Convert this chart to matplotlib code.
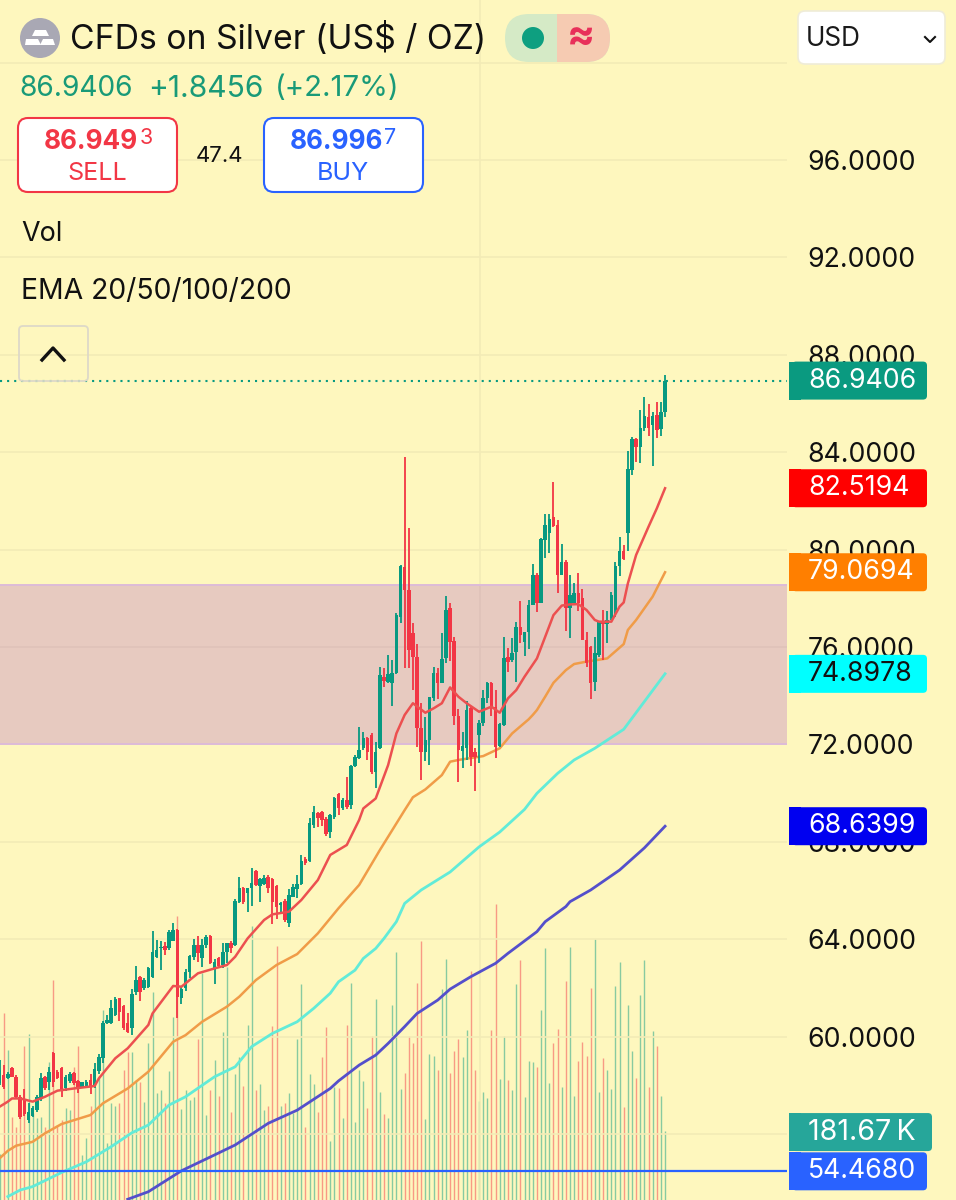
import numpy as np
import matplotlib
matplotlib.use("Agg")
import matplotlib.pyplot as plt
from matplotlib.patches import FancyBboxPatch, Circle, Rectangle, Polygon

plt.rcParams['font.family'] = ['Inter', 'DejaVu Sans']

# candles, first one is cut by the left edge
open_ = [58.08,
         58.42, 58.29, 58.70, 58.35, 57.53, 57.42, 56.57, 56.74, 56.99, 57.46,
         58.33, 58.15, 59.31, 58.56, 58.70, 57.88, 58.19, 58.49, 58.19, 57.94,
         57.97, 58.22, 57.94, 58.60, 59.11, 60.55, 60.57, 60.89, 61.57, 61.26,
         60.55, 60.34, 61.84, 62.46, 61.98, 62.05, 62.43, 63.28, 63.62, 63.72,
         63.62, 63.94, 64.38, 61.57, 61.98, 62.67, 63.28, 63.76, 63.22, 63.76,
         64.13, 62.74, 63.22, 62.94, 63.49, 63.86, 63.76, 65.54, 66.09, 65.89,
         66.09, 66.82, 66.19, 66.27, 66.57, 66.47, 66.19, 65.41, 65.58, 64.65,
         65.75, 66.05, 66.27, 67.28, 67.21, 68.69, 69.20, 69.24, 68.92, 68.42,
         69.03, 69.97, 69.40, 69.71, 69.51, 71.11, 71.43, 71.84, 72.25, 72.38,
         70.88, 71.84, 74.75, 74.57, 74.51, 74.92, 77.24, 79.30, 78.34, 76.56,
         75.57, 72.66, 71.70, 72.18, 73.89, 74.92, 74.53, 75.53, 77.59, 76.24,
         73.16, 71.74, 71.84, 73.48, 71.70, 72.38, 72.86, 73.89, 74.51, 73.55,
         71.93, 72.80, 75.60, 75.46, 75.81, 76.81, 76.22, 76.63, 77.72, 78.96,
         77.82, 80.39, 80.67, 81.32, 81.01, 78.96, 79.50, 77.59, 77.79, 78.20,
         78.00, 76.29, 76.01, 74.57, 75.67, 77.04, 76.94, 77.18, 77.52, 79.33,
         79.94, 80.70, 83.27, 84.53, 84.20, 84.98, 85.46, 85.12, 85.53, 84.94,
         85.64]
high = [59.04,
        58.83, 58.56, 58.77, 58.42, 57.60, 57.85, 57.26, 57.15, 57.60, 58.52,
        58.38, 58.77, 59.38, 58.63, 58.77, 58.42, 58.53, 58.56, 58.22, 58.15,
        58.22, 58.46, 58.93, 59.29, 60.65, 60.89, 61.50, 61.61, 61.60, 61.30,
        60.96, 61.94, 62.90, 62.49, 62.39, 62.87, 64.35, 63.97, 63.94, 63.90,
        64.38, 64.65, 64.42, 62.05, 62.78, 63.35, 64.00, 64.13, 64.00, 64.17,
        64.17, 63.17, 63.26, 63.83, 63.86, 63.93, 65.64, 66.54, 66.13, 66.12,
        66.91, 66.84, 66.50, 66.64, 66.64, 66.50, 66.23, 65.54, 65.64, 66.05,
        66.26, 66.64, 67.46, 67.39, 68.99, 69.47, 69.24, 69.28, 69.03, 69.13,
        69.83, 70.02, 69.80, 70.67, 71.15, 71.56, 72.70, 72.52, 72.32, 72.45,
        72.11, 75.16, 75.12, 75.67, 75.46, 77.41, 79.37, 83.79, 80.87, 76.97,
        76.12, 73.68, 73.11, 73.93, 75.19, 75.12, 76.56, 78.09, 77.79, 76.42,
        73.44, 72.52, 73.79, 73.55, 71.84, 73.00, 74.23, 74.57, 74.57, 74.23,
        72.86, 76.40, 75.94, 76.35, 77.04, 77.90, 76.63, 77.93, 79.39, 79.02,
        80.46, 81.46, 81.46, 82.79, 81.21, 80.23, 79.57, 78.96, 78.61, 79.02,
        78.37, 76.63, 76.04, 76.42, 77.04, 77.52, 77.48, 78.27, 79.50, 80.53,
        80.19, 84.05, 84.64, 84.57, 85.74, 86.26, 85.97, 85.67, 86.05, 86.05,
        87.17]
low = [58.01,
       57.83, 58.26, 58.33, 57.46, 56.62, 56.74, 56.46, 56.68, 56.89, 57.36,
       57.81, 57.81, 57.94, 58.24, 57.53, 57.78, 58.11, 58.01, 57.67, 57.92,
       57.92, 57.63, 57.88, 58.46, 58.90, 60.52, 60.52, 60.85, 60.64, 60.27,
       60.13, 60.06, 61.71, 61.46, 61.91, 61.98, 62.39, 63.21, 62.74, 63.35,
       63.56, 63.94, 60.75, 61.34, 61.89, 62.42, 63.15, 63.08, 62.87, 63.63,
       62.98, 62.16, 62.83, 62.81, 63.04, 63.45, 63.72, 65.50, 65.45, 65.13,
       65.37, 66.19, 65.54, 66.23, 65.89, 64.63, 64.82, 65.04, 64.72, 64.52,
       65.72, 65.68, 66.23, 67.04, 67.19, 68.55, 68.62, 68.65, 68.24, 68.14,
       68.92, 69.10, 69.30, 69.33, 69.33, 71.08, 71.38, 71.77, 71.36, 70.77,
       70.19, 71.80, 74.34, 74.53, 73.58, 74.88, 76.97, 75.12, 75.12, 74.23,
       71.88, 70.54, 71.33, 71.15, 73.79, 73.85, 74.51, 75.35, 75.44, 72.80,
       70.47, 71.02, 71.36, 71.11, 70.10, 71.22, 72.75, 73.68, 73.16, 71.43,
       71.91, 72.75, 74.99, 75.40, 74.57, 76.15, 75.63, 75.90, 77.72, 77.45,
       77.79, 79.64, 79.85, 80.94, 78.20, 78.96, 76.67, 76.35, 77.79, 77.49,
       76.29, 75.16, 73.85, 74.20, 75.60, 75.46, 76.18, 77.11, 77.24, 78.91,
       79.57, 79.96, 83.07, 83.59, 83.55, 84.89, 84.68, 83.44, 84.57, 84.67,
       85.46]
close = [58.63,
         57.92, 58.46, 58.35, 57.53, 56.71, 56.82, 56.92, 57.05, 57.53, 58.29,
         57.88, 58.56, 58.15, 58.29, 57.81, 58.35, 58.46, 58.08, 57.88, 58.12,
         58.15, 57.94, 58.66, 59.18, 60.57, 60.68, 61.16, 61.53, 61.02, 60.34,
         60.20, 61.75, 62.32, 61.84, 62.32, 62.80, 63.46, 63.56, 63.69, 63.56,
         64.31, 64.38, 61.61, 61.94, 62.67, 63.31, 63.76, 63.42, 63.76, 64.10,
         63.04, 63.08, 62.90, 63.49, 63.83, 63.63, 65.58, 66.09, 65.54, 66.09,
         66.30, 66.23, 66.46, 66.50, 66.09, 65.54, 65.34, 65.50, 64.79, 65.82,
         66.13, 66.27, 67.21, 67.12, 68.76, 69.24, 68.97, 68.90, 68.32, 69.10,
         69.79, 69.38, 69.71, 69.44, 71.11, 71.49, 71.77, 72.25, 71.70, 70.88,
         71.70, 74.85, 74.62, 74.89, 74.92, 77.31, 79.33, 78.34, 75.88, 75.60,
         72.66, 71.70, 72.18, 73.93, 74.92, 74.51, 75.49, 77.52, 76.22, 73.16,
         71.77, 71.93, 73.41, 71.49, 71.49, 72.86, 73.89, 74.51, 73.55, 71.91,
         72.84, 75.53, 75.40, 75.74, 76.83, 76.49, 76.60, 77.72, 78.96, 77.82,
         80.42, 81.01, 81.24, 80.97, 78.96, 79.50, 77.59, 78.13, 78.23, 77.79,
         76.29, 75.33, 74.53, 75.74, 77.01, 76.94, 77.11, 78.13, 79.33, 79.94,
         79.60, 83.30, 84.53, 84.20, 84.98, 85.49, 84.98, 85.49, 84.92, 85.67,
         86.94]
# volume in thousands
volume = [120,
          493, 395, 218, 193, 228, 405, 437, 228, 215, 219,
          191, 364, 579, 197, 211, 241, 237, 351, 405, 118,
          162, 246, 298, 325, 500, 149, 254, 246, 254, 342,
          388, 388, 316, 311, 259, 412, 548, 281, 288, 254,
          338, 481, 747, 239, 289, 263, 272, 423, 596, 224,
          288, 367, 274, 441, 614, 232, 332, 377, 300, 460,
          721, 288, 305, 237, 246, 458, 668, 246, 254, 281,
          228, 423, 568, 193, 332, 305, 232, 375, 456, 154,
          298, 294, 216, 460, 572, 205, 341, 313, 243, 432,
          528, 284, 226, 216, 514, 652, 293, 333, 432, 414,
          571, 681, 214, 385, 379, 341, 555, 635, 334, 391,
          423, 377, 448, 602, 341, 260, 283, 267, 447, 778,
          318, 432, 315, 289, 568, 631, 271, 366, 362, 350,
          501, 663, 308, 414, 451, 296, 576, 666, 274, 366,
          416, 378, 558, 686, 284, 374, 343, 291, 563, 626,
          245, 512, 391, 322, 540, 631, 296, 444, 405, 274,
          181.67]

# EMAs read at the bars where the line is clearest
ema20_idx = [-1, 1, 2, 4, 7, 10, 13, 17, 22, 23, 27, 30, 35, 36, 41, 43, 47, 51, 54, 56, 59, 63, 65,
             69, 72, 76, 79, 83, 86, 87, 90, 93, 95, 97, 99, 102, 104, 106, 108, 110, 112, 115, 118,
             120, 122, 124, 126, 129, 131, 133, 135, 137, 139, 141, 143, 144, 147, 149, 150, 151,
             153, 156, 158, 160]
ema20_val = [57.12, 57.33, 57.46, 57.46, 57.33, 57.53, 57.78, 57.87, 57.97, 58.28, 59.11, 59.52,
             60.48, 60.95, 62.08, 62.05, 62.60, 62.80, 62.94, 63.28, 64.03, 64.79, 65.02, 65.13,
             65.61, 66.43, 67.46, 67.87, 68.90, 69.37, 69.78, 71.15, 72.45, 73.21, 73.69, 73.30,
             73.48, 73.69, 74.34, 73.96, 73.69, 73.34, 73.55, 73.30, 73.89, 74.23, 74.78, 75.53,
             76.42, 77.31, 77.70, 77.75, 77.76, 77.52, 77.11, 77.04, 77.04, 77.66, 77.83, 78.61,
             79.78, 80.94, 81.69, 82.52]
ema50_idx = [-1, 1, 3, 7, 10, 14, 21, 24, 30, 35, 41, 44, 48, 54, 57, 61, 66, 71, 76, 81, 86, 91,
             97, 99, 102, 106, 108, 110, 116, 120, 123, 127, 128, 129, 131, 133, 136, 138, 141, 146,
             150, 151, 153, 155, 157, 160]
ema50_val = [55.00, 55.31, 55.52, 55.68, 56.03, 56.41, 56.78, 57.26, 57.87, 58.56, 59.79, 60.06,
             60.61, 61.23, 61.64, 62.32, 62.94, 63.39, 64.24, 65.27, 66.23, 67.66, 69.30, 69.83,
             70.15, 70.74, 71.29, 71.36, 71.52, 71.84, 72.45, 73.03, 73.21, 73.41, 73.96, 74.53,
             75.05, 75.30, 75.40, 75.53, 76.12, 76.70, 77.11, 77.59, 78.07, 79.07]
ema100_idx = [1, 4, 7, 14, 20, 26, 31, 35, 40, 44, 51, 56, 60, 65, 71, 75, 79, 81, 85, 87, 90, 92,
              95, 97, 101, 108, 115, 120, 126, 129, 134, 138, 143, 150, 160]
ema100_val = [53.43, 53.70, 53.84, 54.42, 54.86, 55.48, 56.05, 56.37, 57.19, 57.53, 58.35, 58.76,
              59.59, 60.13, 60.61, 61.16, 61.78, 62.25, 62.73, 63.21, 63.62, 64.03, 64.72, 65.47,
              66.02, 66.76, 67.79, 68.40, 69.33, 69.99, 70.81, 71.36, 71.84, 72.62, 74.90]
ema200_idx = [30, 35, 43, 51, 56, 64, 71, 79, 81, 86, 90, 93, 97, 100, 105, 108, 113, 119, 122,
              129, 131, 136, 137, 142, 149, 155, 160]
ema200_val = [53.32, 53.63, 54.49, 55.14, 55.55, 56.44, 56.98, 57.87, 58.18, 58.83, 59.24, 59.72,
              60.41, 60.95, 61.50, 61.95, 62.46, 63.01, 63.42, 64.31, 64.72, 65.34, 65.54, 66.02,
              66.84, 67.75, 68.64]

zone_top = 78.55
zone_bottom = 72.02
last_price = 86.9406
blue_line = 54.4680
volume_tag_y = 56.08
price_ticks = [56, 60, 64, 68, 72, 76, 80, 84, 88, 92, 96]
grid_prices = price_ticks + [100]

GREEN = '#089981'
RED = '#F23645'
BG = '#FEF7BE'
GRID = '#F3EBB6'

fig = plt.figure(figsize=(9.56, 12), dpi=100, facecolor=BG)
plot_rect = [0, 0, 787 / 956, 1]

vol_ax = fig.add_axes(plot_rect, zorder=1)
ax = fig.add_axes(plot_rect, zorder=2, sharex=vol_ax)
ui = fig.add_axes([0, 0, 1, 1], zorder=3)
ui.set_xlim(0, 956)
ui.set_ylim(1200, 0)
ui.axis('off')

x = np.arange(-1, 161)
o, h, l, c = map(np.array, (open_, high, low, close))
bar_colors = [GREEN if cc >= oo else RED for oo, cc in zip(o, c)]

ax.set_xlim(-0.895, 189.5)
ax.set_ylim(53.29, 102.57)
vol_ax.set_ylim(0, 3156)
vol_ax.axis('off')
ax.patch.set_alpha(0)

vol_ax.vlines(x, 0, volume, colors=bar_colors, linewidth=1.0, alpha=0.48)

# horizontal grid, one crosshair line, the supply zone
ax.hlines(grid_prices, -5, 195, colors=GRID, linewidth=1.2, zorder=1)
ax.axvline(115.2, color=GRID, linewidth=1.2, zorder=1)
ax.axhspan(zone_bottom, zone_top, color='#A647C6', alpha=0.25, linewidth=0, zorder=1.2)
for edge in (zone_bottom, zone_top):
    ax.axhline(edge, color='#DDBBD8', linewidth=1.4, zorder=1.3)

ax.plot(ema200_idx, ema200_val, color='#544FCB', linewidth=2.0, zorder=2)
ax.plot(ema100_idx, ema100_val, color='#62EBD8', linewidth=2.0, zorder=2)
ax.plot(ema50_idx, ema50_val, color='#F09C48', linewidth=1.8, zorder=2)

ax.vlines(x, l, h, colors=bar_colors, linewidth=1.3, zorder=3)
ax.bar(x, np.maximum(np.abs(c - o), 0.08), bottom=np.minimum(o, c), width=0.85,
       color=bar_colors, linewidth=0, zorder=3)
ax.plot(ema20_idx, ema20_val, color='#EC5050', linewidth=1.8, zorder=4)

ax.axhline(last_price, color=GREEN, linewidth=1.5, linestyle=(0, (1, 2.4)), zorder=4)
ax.axhline(blue_line, color='#2962FF', linewidth=1.6, zorder=4)

ax.yaxis.tick_right()
ax.set_yticks(price_ticks)
ax.set_yticklabels([f'{p:.4f}' for p in price_ticks], fontsize=19.2, color='#111111')
ax.tick_params(axis='y', length=0, pad=15)
ax.set_xticks([])
for s in ax.spines.values():
    s.set_visible(False)


def py(price):
    return 1200 - ax.transData.transform((0, price))[1]


def price_tag(price, label, bg, fg='white', right=927, size=19.2):
    yc = py(price)
    ui.add_patch(FancyBboxPatch((792, yc - 19), right - 792, 38,
                                boxstyle='round,pad=0,rounding_size=4', fc=bg, ec='none', zorder=5))
    ui.add_patch(Rectangle((789, yc - 19), 12, 38, fc=bg, ec='none', zorder=5))
    ui.text(808, yc, label, color=fg, fontsize=size, va='center', ha='left', zorder=6)


price_tag(last_price, '86.9406', '#0A9A80')
price_tag(82.5194, '82.5194', '#FF0000')
price_tag(79.0694, '79.0694', '#FF7F00')
price_tag(74.8978, '74.8978', '#00FFFF', fg='#111111')
price_tag(68.6399, '68.6399', '#0000F0')
price_tag(volume_tag_y, '181.67\u2009K', '#26A69A', right=932, size=20.6)
price_tag(blue_line, '54.4680', '#2962FF')

# header
ui.add_patch(Circle((40, 38), 20, fc='#A9A8B4', ec='none'))
for bar in ([(35, 30), (46, 30), (49, 36), (32, 36)],
            [(26, 39), (38, 39), (41, 45), (25, 45)],
            [(43, 39), (53, 39), (55, 45), (40, 45)]):
    ui.add_patch(Polygon(bar, fc='white', ec='none'))
ui.text(70, 39, 'CFDs on Silver (US$ / OZ)', fontsize=24.3, color='#111111', va='center')
ui.text(19, 89, '86.9406', fontsize=20.3, color='#199A78', va='center')
ui.text(148, 89, '+1.8456', fontsize=21.6, color='#199A78', va='center')
ui.text(275, 89, '(+2.17%)', fontsize=21.2, color='#199A78', va='center')

# status pill
ui.add_patch(FancyBboxPatch((505, 14), 105, 48, boxstyle='round,pad=0,rounding_size=24',
                            fc='#D5EAC6', ec='none'))
clip = FancyBboxPatch((505, 14), 105, 48, boxstyle='round,pad=0,rounding_size=24',
                      fc='none', ec='none', transform=ui.transData)
ui.add_patch(clip)
right_half = Rectangle((557, 14), 53, 48, fc='#F6CBB2', ec='none')
ui.add_patch(right_half)
right_half.set_clip_path(clip)
ui.add_patch(Circle((533, 38), 11, fc='#0E9F80', ec='none'))
ui.text(581, 37, '\u2248', fontsize=30, color='#E8305A', ha='center', va='center', fontweight='bold')

# currency select
ui.add_patch(FancyBboxPatch((798, 11), 147, 53, boxstyle='round,pad=0,rounding_size=7',
                            fc='white', ec='#EFECD8', linewidth=1.2))
ui.text(806, 39, 'USD', fontsize=18.8, color='#1A1A1A', va='center')
ui.plot([925, 930, 935], [37, 42, 37], color='#111111', linewidth=1.5)

# sell / buy
for left, col, px, sup, word, px_x, sup_x in (
        (18, '#F23645', '86.949', '3', 'SELL', 91, 140),
        (264, '#2962FF', '86.996', '7', 'BUY', 336, 384)):
    ui.add_patch(FancyBboxPatch((left, 118), 159, 74, boxstyle='round,pad=0,rounding_size=10',
                                fc='white', ec=col, linewidth=1.5))
    ui.text(px_x, 142, px, fontsize=18.8, fontweight='bold', color=col, ha='center', va='center')
    ui.text(sup_x, 138, sup, fontsize=15.5, color=col, ha='left', va='center')
    ui.text(left + 79, 173, word, fontsize=18, color=col, ha='center', va='center')
ui.text(220, 156, '47.4', fontsize=16, color='#111111', ha='center', va='center')

ui.text(21, 234, 'Vol', fontsize=19.4, color='#111111', va='center')
ui.text(21, 292, 'EMA 20/50/100/200', fontsize=20.4, color='#111111', va='center')

ui.add_patch(FancyBboxPatch((19, 326), 69, 55, boxstyle='round,pad=0,rounding_size=4',
                            fc='none', ec='#DDD9C8', linewidth=1.3))
ui.plot([42, 53, 64], [360, 348, 360], color='#111111', linewidth=2.4)

fig.savefig('out.png', dpi=100, facecolor=BG)
